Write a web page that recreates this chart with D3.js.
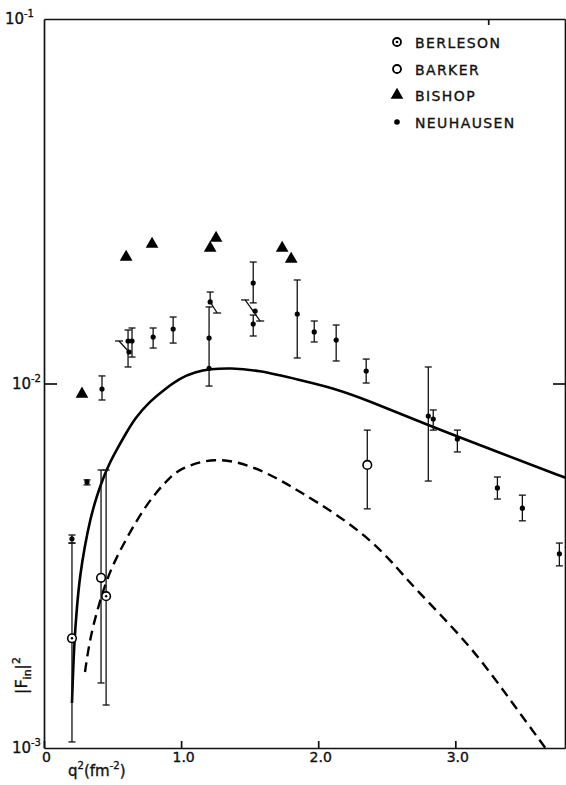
<!DOCTYPE html>
<html>
<head>
<meta charset="utf-8">
<script src="https://cdn.jsdelivr.net/npm/d3@7"></script>
<style>
  body { margin: 0; background: #fff; }
  text { font-family: "DejaVu Sans", "Liberation Sans", sans-serif; fill: #111; stroke: #111; stroke-width: 0.35; }
</style>
</head>
<body>
<div id="wrapper"></div>
<script>
// q^2 (fm^-2) ticks and |F_in|^2 decades
const xTicks = [0, 1, 2, 3];
const yDecades = [1e-3, 1e-2, 1e-1];
const yExponents = ["-3", "-2", "-1"];

// [q2, value, low, high]  (null = no bar on that side)
const neuhausen = [
    [0.204, 3.75e-3, 3.65e-3, 3.84e-3],
    [0.314, 5.37e-3, 5.27e-3, 5.44e-3],
    [0.423, 9.66e-3, 9.01e-3, 1.049e-2],
    [0.613, 1.308e-2, 1.110e-2, 1.402e-2],
    [0.642, 1.308e-2, 1.182e-2, 1.420e-2],
    [0.620, 1.220e-2, null, null],
    [0.796, 1.341e-2, 1.251e-2, 1.420e-2],
    [0.942, 1.411e-2, 1.291e-2, 1.522e-2],
    [1.212, 1.674e-2, null, 1.782e-2],
    [1.204, 1.333e-2, 9.84e-3, 1.622e-2],
    [1.204, 1.100e-2, null, null],
    [1.526, 1.886e-2, 1.664e-2, 2.154e-2],
    [1.540, 1.581e-2, null, null],
    [1.526, 1.456e-2, 1.350e-2, 1.541e-2],
    [1.847, 1.551e-2, 1.175e-2, 1.923e-2],
    [1.971, 1.385e-2, 1.300e-2, 1.484e-2],
    [2.131, 1.316e-2, 1.153e-2, 1.447e-2],
    [2.350, 1.082e-2, 1.003e-2, 1.167e-2],
    [2.803, 8.14e-3, 5.40e-3, 1.110e-2],
    [2.839, 7.99e-3, 7.45e-3, 8.46e-3],
    [3.015, 7.04e-3, 6.49e-3, 7.45e-3],
    [3.307, 5.17e-3, 4.82e-3, 5.54e-3],
    [3.489, 4.55e-3, 4.20e-3, 4.94e-3],
    [3.759, 3.41e-3, 3.16e-3, 3.65e-3]
];
// tilted bars [q1, v1, q2, v2, capAtStart, capAtEnd]
const tiltedBars = [
    [0.547, 1.308e-2, 0.620, 1.220e-2, 1, 0],
    [1.212, 1.674e-2, 1.263, 1.561e-2, 0, 1],
    [1.467, 1.695e-2, 1.577, 1.484e-2, 1, 1]
];
const barker = [
    [0.416, 2.93e-3, 1.508e-3, 5.79e-3],
    [2.358, 5.98e-3, 4.53e-3, 7.45e-3]
];
const berleson = [
    [0.204, 2.00e-3, 1.039e-3, 3.65e-3],
    [0.453, 2.61e-3, 1.312e-3, 5.79e-3]
];
const bishop = [
    [0.277, 9.42e-3], [0.599, 2.238e-2], [0.788, 2.429e-2], [1.212, 2.368e-2],
    [1.255, 2.523e-2], [1.737, 2.368e-2], [1.803, 2.210e-2]
];
// theory curves [q2, value]
const solidCurve = [
    [0.204, 1.329e-3], [0.219, 1.917e-3], [0.241, 2.468e-3], [0.263, 2.983e-3],
    [0.299, 3.605e-3], [0.336, 4.221e-3], [0.380, 4.852e-3], [0.431, 5.504e-3],
    [0.482, 6.090e-3], [0.533, 6.612e-3], [0.591, 7.222e-3], [0.664, 8.04e-3],
    [0.774, 8.95e-3], [0.883, 9.66e-3], [0.993, 1.035e-2], [1.102, 1.075e-2],
    [1.212, 1.096e-2], [1.358, 1.103e-2], [1.555, 1.089e-2], [1.869, 1.022e-2],
    [2.109, 9.72e-3], [2.358, 9.01e-3], [2.796, 7.69e-3], [3.328, 6.45e-3],
    [3.810, 5.50e-3]
];
const dashedCurve = [
    [0.299, 1.616e-3], [0.336, 2.015e-3], [0.409, 2.547e-3], [0.482, 3.078e-3],
    [0.606, 3.792e-3], [0.752, 4.701e-3], [0.898, 5.436e-3], [0.993, 5.864e-3],
    [1.248, 6.285e-3], [1.504, 5.975e-3], [1.723, 5.436e-3], [1.869, 5.039e-3],
    [2.109, 4.441e-3], [2.358, 3.792e-3], [2.547, 3.218e-3], [2.693, 2.765e-3],
    [3.109, 1.917e-3], [3.401, 1.354e-3], [3.657, 1.0e-3]
];
const legendNames = ["BERLESON", "BARKER", "BISHOP", "NEUHAUSEN"];

const dim = { width: 566, height: 785, left: 44, right: 565, top: 19, bottom: 748 };

const svg = d3.select("#wrapper").append("svg")
    .attr("width", dim.width)
    .attr("height", dim.height);

const x = d3.scaleLinear().domain([0, 3.8]).range([dim.left, dim.right]);
const y = d3.scaleLog().domain([1e-3, 1e-1]).range([dim.bottom, dim.top]);

// frame + ticks
svg.append("g")
    .attr("transform", `translate(0,${dim.bottom})`)
    .call(d3.axisBottom(x).tickValues(xTicks).tickSize(-7).tickSizeOuter(0).tickPadding(4)
        .tickFormat(d => d === 0 ? "0" : d.toFixed(1)));
svg.append("g")
    .attr("transform", `translate(0,${dim.top})`)
    .call(d3.axisTop(x).tickValues([3.24]).tickSize(-6).tickSizeOuter(0).tickFormat(""));
svg.append("g")
    .attr("transform", `translate(${dim.left},0)`)
    .call(d3.axisLeft(y).tickValues([1e-2]).tickSize(-13).tickSizeOuter(0).tickFormat(""));
svg.append("g")
    .attr("transform", `translate(${dim.right},0)`)
    .call(d3.axisRight(y).tickValues([1e-2]).tickSize(-12).tickSizeOuter(0).tickFormat(""));
svg.selectAll(".domain, .tick line").attr("stroke", "#111").attr("stroke-width", 1.7);
svg.selectAll(".tick text").attr("font-size", 14).attr("fill", "#111")
    .attr("font-family", "DejaVu Sans").attr("dx", 2);

// decade labels 10^-n
yDecades.forEach((d, i) => {
    svg.append("text")
        .attr("x", i === 2 ? 24 : 31)
        .attr("y", y(d) + 5)
        .attr("text-anchor", "end")
        .attr("font-size", 15)
        .text("10");
    svg.append("text")
        .attr("x", i === 2 ? 24 : 31)
        .attr("y", y(d) - 2)
        .attr("font-size", 10)
        .text(yExponents[i]);
});

// axis titles
const xt = svg.append("text").attr("x", 68).attr("y", 776).attr("font-size", 15);
xt.append("tspan").text("q");
xt.append("tspan").attr("font-size", 10).attr("dy", -7).text("2");
xt.append("tspan").attr("dy", 7).text("(fm");
xt.append("tspan").attr("font-size", 10).attr("dy", -7).text("-2");
xt.append("tspan").attr("dy", 7).text(")");

const yt = svg.append("text").attr("transform", "translate(27,694) rotate(-90)").attr("font-size", 16);
yt.append("tspan").text("|F");
yt.append("tspan").attr("font-size", 11).attr("dy", 4).text("in");
yt.append("tspan").attr("dy", -4).text("|");
yt.append("tspan").attr("font-size", 11).attr("dy", -7).text("2");

// theory curves
const line = d3.line().x(d => x(d[0])).y(d => y(d[1])).curve(d3.curveBasis);
svg.append("path")
    .attr("fill", "none").attr("stroke", "#000").attr("stroke-width", 2.6)
    .attr("d", line(solidCurve));
svg.append("path")
    .attr("fill", "none").attr("stroke", "#000").attr("stroke-width", 2.4)
    .attr("stroke-dasharray", "10,6")
    .attr("d", line(dashedCurve));

// error bars
const bars = svg.append("g").attr("stroke", "#111").attr("stroke-width", 1.3);
function errorBar(d, cap) {
    const lo = d[2] === null ? d[1] : d[2];
    const hi = d[3] === null ? d[1] : d[3];
    bars.append("line").attr("x1", x(d[0])).attr("x2", x(d[0])).attr("y1", y(lo)).attr("y2", y(hi));
    if (d[2] !== null) bars.append("line").attr("x1", x(d[0]) - cap).attr("x2", x(d[0]) + cap)
        .attr("y1", y(d[2])).attr("y2", y(d[2]));
    if (d[3] !== null) bars.append("line").attr("x1", x(d[0]) - cap).attr("x2", x(d[0]) + cap)
        .attr("y1", y(d[3])).attr("y2", y(d[3]));
}
neuhausen.forEach(d => errorBar(d, 3.5));
barker.forEach(d => errorBar(d, 3.5));
berleson.forEach(d => errorBar(d, 3.5));
tiltedBars.forEach(d => {
    bars.append("line").attr("x1", x(d[0])).attr("y1", y(d[1])).attr("x2", x(d[2])).attr("y2", y(d[3]));
    if (d[4]) bars.append("line").attr("x1", x(d[0]) - 4).attr("x2", x(d[0]) + 4)
        .attr("y1", y(d[1])).attr("y2", y(d[1]));
    if (d[5]) bars.append("line").attr("x1", x(d[2]) - 4).attr("x2", x(d[2]) + 4)
        .attr("y1", y(d[3])).attr("y2", y(d[3]));
});

// markers
const tri = d3.symbol().type(d3.symbolTriangle).size(70);
svg.append("g").selectAll("path").data(bishop).join("path")
    .attr("d", tri).attr("fill", "#000")
    .attr("transform", d => `translate(${x(d[0])},${y(d[1]) + 1})`);
svg.append("g").selectAll("circle").data(neuhausen).join("circle")
    .attr("cx", d => x(d[0])).attr("cy", d => y(d[1])).attr("r", 2.6).attr("fill", "#000");
svg.append("g").selectAll("circle").data(barker).join("circle")
    .attr("cx", d => x(d[0])).attr("cy", d => y(d[1])).attr("r", 4.3)
    .attr("fill", "#fff").attr("stroke", "#000").attr("stroke-width", 1.6);
const bg = svg.append("g").selectAll("g").data(berleson).join("g")
    .attr("transform", d => `translate(${x(d[0])},${y(d[1])})`);
bg.append("circle").attr("r", 4.3).attr("fill", "#fff").attr("stroke", "#000").attr("stroke-width", 1.6);
bg.append("circle").attr("r", 1.2).attr("fill", "#000");

// legend
const lg = svg.append("g");
const rowY = [42, 69, 95, 122];
legendNames.forEach((name, i) => {
    const cx = 397, cy = rowY[i];
    if (i === 0) {
        lg.append("circle").attr("cx", cx).attr("cy", cy).attr("r", 4).attr("fill", "none").attr("stroke", "#000").attr("stroke-width", 1.8);
        lg.append("circle").attr("cx", cx).attr("cy", cy).attr("r", 1.3).attr("fill", "#000");
    } else if (i === 1) {
        lg.append("circle").attr("cx", cx).attr("cy", cy).attr("r", 4).attr("fill", "none").attr("stroke", "#000").attr("stroke-width", 1.8);
    } else if (i === 2) {
        lg.append("path").attr("d", tri).attr("fill", "#000").attr("transform", `translate(${cx},${cy})`);
    } else {
        lg.append("circle").attr("cx", cx).attr("cy", cy).attr("r", 2.8).attr("fill", "#000");
    }
    lg.append("text").attr("x", 415).attr("y", cy + 5.5)
        .attr("font-size", 14).attr("letter-spacing", 1.4).text(name);
});
</script>
</body>
</html>
